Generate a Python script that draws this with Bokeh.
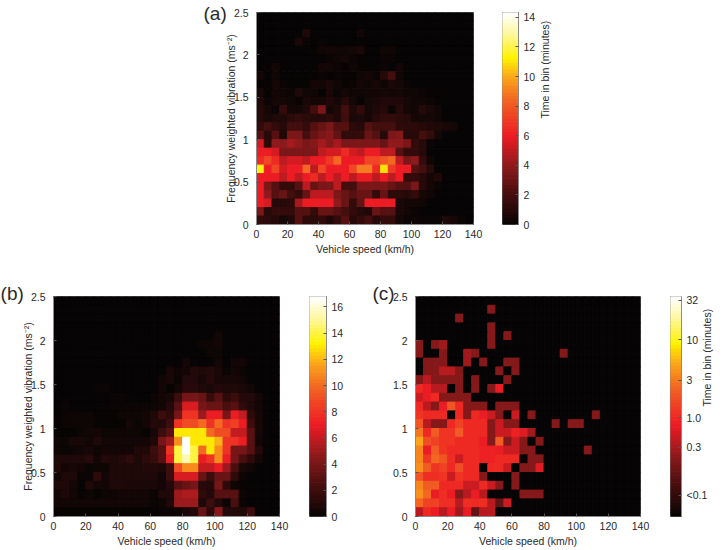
import math
import numpy as np
from bokeh.plotting import figure
from bokeh.layouts import column, row
from bokeh.models import Range1d, FixedTicker, LinearColorMapper, ColumnDataSource, Label
from bokeh.transform import transform
from bokeh.embed import file_html
from bokeh.resources import INLINE

SPEED_TICKS = [0, 20, 40, 60, 80, 100, 120, 140]
VIB_TICKS = [0, 0.5, 1, 1.5, 2, 2.5]
VIB_LABELS = {0: "0", 0.5: "0.5", 1: "1", 1.5: "1.5", 2: "2", 2.5: "2.5"}
BIN_SPEED = 5
BIN_VIB = 0.1
XLABEL = "Vehicle speed (km/h)"
YLABEL = "Frequency weighted vibration (ms\u207b\u00b2)"
CLABEL = "Time in bin (minutes)"

# Rows from the top bin (2.4-2.5) to the bottom bin (0-0.1); missing columns are 0.
A_ROWS = [
 [],
 [],
 [0,0,0,0,0,0,.7,0,0,0,0,0,0,.4],
 [0,0,0,0,0,.6,.2,0,.2],
 [0,0,0,0,0,0,0,.1,.3,.4,.3,.3,.5,.6,0,0,.3,.3],
 [0,0,0,0,0,0,0,0,0,.2,.3,.5,.2,.1,0,0,.2,.2],
 [.1,0,.4,.1,0,0,0,.1,.4,.4,.2,.1,.3,.1,.1,.1,.2,0,.4],
 [.5,0,.3,0,0,.1,0,.1,.2,.1,.2,.1,.1,.3,.4,.2,1,2,.3],
 [.1,.1,.5,.2,.1,0,.1,.4,.4,.6,.3,.1,.2,.4,.3,.5,.3,.6,.5,.2],
 [.6,.1,.4,.3,.2,.7,.3,.3,.1,.6,.2,.5,.3,.3,.4,.4,.5,.4,.5,.3,.3,.2,.1,.1],
 [.8,.2,.5,.5,.3,.1,.6,.5,.5,.8,.5,1,.5,.1,.5,.6,.8,.8,.8,.5,.3,.3,.2,.1],
 [1,.5,.2,1.5,.5,.5,.8,2,3.5,.5,.8,2,.8,1.5,.5,.8,1,.2,1,.5,.4,1,.6,.3],
 [1,.6,.7,.8,1.2,1.5,1.2,1,1,1.2,.8,1.8,.6,.7,.5,1,1.5,1.5,1.2,1,.5,.5,.5,.3,.1],
 [1.5,2,1.5,1,2,2,1.5,2.5,3,3.5,2.5,2.5,1.2,1,2.5,2,2,2,1.2,1.2,1.2,1,.8,.7,.6,.5],
 [2.5,1,2.5,.8,3.5,3.5,2,3,3.5,3.8,2.8,1.3,1.3,1.5,3,2.5,1,3.5,3.8,1,1,2,1.5,.5],
 [5.5,1.2,4,4,4.5,4,3.5,3.8,4.5,3.8,4.5,3.5,3.5,3.5,3.5,3.5,3,4,4,3.5,1.5,1,.2],
 [6,6,5.5,3.5,3.5,3.5,3.5,3.5,5,5.5,5.5,6.5,5.5,5,6,6,5,5,2.5,1.5,1.5,1],
 [6.5,7.5,6.5,5,5.5,5.5,5,6,6,7,8.5,6,6,6,7.5,7.5,8,8.5,5,3.5,4,1.5,.3],
 [11.5,6,7.5,5.5,6,6,8.5,5,7.5,6,6,6,7.5,9,9,6.5,11,7,6,6,2.5,2,1],
 [6,6,6,5,6,5,6,6.5,5,6,5,6,5,6,6,5,6,5,6,1.5,1.5,1,.5,.8],
 [6,3.5,2.5,1.5,1.5,2.5,5,3,3.5,3.5,5,2,2,3.5,3.5,3.5,3.5,3,2.5,2.5,3.5,1,.5,.2],
 [6,4,2.5,3,2,1.5,3,5,5,5,3.5,3,2.5,3,3,1.5,3,1.2,1.2,1,1.5,.5,.3],
 [6,5.5,1,1,1.2,4.5,6,6,6,6,4,3,1.5,2.8,6,6,6,6,.6,.5,.5,.3],
 [3.5,1,1.5,1.5,1.5,2.5,2.5,1.5,3,3,2.5,2,1.5,1,.8,3,2.5,2.5,.6,.5,.2],
 [1.5,1.2,1,.5,.8,2.5,1.2,1.2,1.5,.8,1.5,2.5,1,1.5,2,1,1.5,1.5,.5,.2,.3,.2,.2,.2,.7,.5,.2],
]

B_ROWS = [
 [],
 [],
 [],
 [],
 [0]*20 + [.4],
 [0]*18 + [.3,.3,.5],
 [0]*19 + [.3,.3],
 [0]*16 + [.4,0,0,0,.4,0,.4,.5],
 [0]*14 + [.6,.3,.5,1,.8,1,.7,.2,.5,.2],
 [0]*13 + [.4,.6,.2,1,1,.6,1.2,.6,.6,.6,.4],
 [0,0,0,0,0,.2,.2,0,0,0,0,0,0,.4,.1,.5,1.2,1.2,.9,.7,1,.8,.8,.7,.4],
 [0,0,0,0,0,0,0,.2,.2,0,0,0,.2,.5,.6,2,4,4,3.5,1.8,3,1.5,2,1,1,.5],
 [0,.2,0,0,0,0,0,.2,.2,.2,.2,.3,.3,.4,1,3,6.5,6.5,4,3.5,3.5,2.5,3,1.5,.8,.5],
 [.1,.2,.3,.3,.3,.1,.1,.1,.3,.3,.3,.5,.8,2,1.5,4,8,8,5,7,7,4,7,6,1.5,.6],
 [.1,.2,.3,.3,.3,.1,.1,.1,.1,.5,.2,.5,1,1,2,8,9,9,10,8,10,8,8.5,7,2,.6],
 [.1,.1,.1,.3,.4,.5,.3,.3,.3,.3,.3,.1,.6,2,3,13,13,13,13,10,9,9,6,6,3,.6],
 [.3,.3,.6,.6,.4,.8,.4,.4,.4,.4,.4,.5,.8,4,5,11,16.8,13,13,13,12,8,8,7,3,.5],
 [.3,.2,.3,.5,.6,.3,.5,.4,.5,.4,.8,.9,2,3,8,14,16.8,14,10,13,11,8,4,4,3,1],
 [.8,.8,.8,.9,1.2,.4,1,.8,1,1.5,.8,1.5,1.8,3,7,14,15.5,14,7,8,11,7,4,2.5,1.5,.5],
 [.8,.5,.6,.5,.2,.3,.3,.8,.9,.9,.8,1,1,.8,2,9,11,11,6,6,7,5,2.5,.7,.4],
 [.4,.9,.9,.2,.2,1.5,.5,.9,.9,.9,.9,.9,.9,.5,2,6.5,6.5,6.5,3.5,2,3.5,3.5,1.5,.3],
 [.8,.8,.4,0,.8,.4,.5,.8,.8,.7,.7,.7,.7,.5,1,3,3.5,4,1.2,1,4,1.5,.3,.1],
 [.4,.8,.5,.1,.3,.1,.3,.3,.5,.5,.5,.5,.2,.8,.9,5,5.5,5.5,1.5,1,3,3,3,.3],
 [.4,.4,.4,.4,.4,.4,.5,.4,.4,.4,.4,.4,.2,.3,.8,5,5,5,.8,2,1,.2,2.5,.2],
 [.1,.1,.1,.1,.1,.1,.1,.1,.1,.1,.1,.1,.1,.2,.2,.3,.7,1,3.5,1.5,4.5,1,1,.9,2,.1],
]

# minutes (colour scale is logarithmic)
C_ROWS = [
 [],
 [0,0,0,0,0,0,0,0,0,.3],
 [0,0,0,0,0,.3],
 [0,0,0,0,0,0,0,0,0,.3],
 [0,0,0,0,0,0,0,0,0,.3,0,.3],
 [.3,0,.3,.4,0,0,0,0,0,.3],
 [.3,0,0,.3,0,0,.4,.3,0,0,0,0,0,0,0,0,0,0,.3],
 [0,.3,.3,.3,0,0,.4,0,.3,0,0,.3,.3],
 [0,.3,.3,.5,.5,.3,0,0,0,0,.3,0,.3],
 [.3,.5,.3,.3,.3,.3,0,.3,0,0,0,.3],
 [1,.8,.5,.5,0,.3,0,.3,0,.3,.8],
 [.6,.8,1,.3,.3,.3,.3],
 [1,.5,.3,.8,2,1,.3,.3,.3,0,.3,.3,.3],
 [1.2,1,1,1,0,1,.3,1,.8,.6,.3,0,.6,0,.3,0,0,0,0,0,0,0,.3],
 [2,.5,.3,.3,1,1.5,1,1,1,.3,.6,.3,.3,0,0,0,0,.3,0,.3,.3],
 [3,1,2.2,1.2,1.2,2.2,1,1,1,.3,.6,.6,.9,.7,.4],
 [5,1.8,1.5,1.2,1.2,1,1,1,.8,.3,2.2,.3,.6,.3,0,.3],
 [3.5,.8,2.2,1.2,1,1,1,1,.9,.9,.8,.6,.6,.3,.3,0,0,0,0,0,0,.3],
 [3.5,1.3,2.5,2,1.1,.6,1,1,.9,.9,1,1,1,0,.3,.3],
 [4,2.2,1.2,1.5,1,1.8,1,1,0,1,1,.6,0,.3,.3,.7],
 [2,1.1,1.1,1.2,.6,1.2,1,1,.3,0,0,0,.3],
 [3.5,2.2,2.2,1,1,1,.6,.6,1,.6,.3,0,.3],
 [4,2.5,.8,1.1,.8,.3,.5,.8,.5,0,0,0,0,.3,.3,.3],
 [2.5,1.5,1.5,1.1,1.1,.5,1.1,1,1.1,.5,.2,.6],
 [.5,1,.8,.5,.8,.4,.8,.2,.5,.5],
]

A_CBAR_TICKS = [0, 2, 4, 6, 8, 10, 12, 14]
B_CBAR_TICKS = [0, 2, 4, 6, 8, 10, 12, 14, 16]
C_CBAR_LABELS = ["<0.1", "0.3", "1.0", "3", "10", "32"]
C_CBAR_POS = [-1.0, -0.38, 0.0, 0.477, 1.0, 1.505]

anchors = [(0, "#060404"), (.05, "#1f0808"), (.14, "#440e0e"), (.28, "#8e1a1c"), (.42, "#ed1c24"),
           (.57, "#f15a24"), (.70, "#faa61a"), (.79, "#fff200"), (.90, "#fff799"), (1, "#ffffff")]
def lerp_palette(n=256):
    out = []
    xs = [a[0] for a in anchors]
    rgb = [[int(a[1][i:i+2], 16) for a in anchors] for i in (1, 3, 5)]
    for t in np.linspace(0, 1, n):
        c = [int(round(np.interp(t, xs, ch))) for ch in rgb]
        out.append("#%02x%02x%02x" % tuple(c))
    return out
PAL = lerp_palette()
FONT = "Liberation Sans"
TXT = "#2a2a2a"
EDGE = "#8a8a8a"

def style(ax):
    ax.axis_line_color = EDGE
    ax.major_tick_line_color = "#555555"
    ax.minor_tick_line_color = None
    ax.major_tick_in = 3
    ax.major_tick_out = 0
    ax.major_label_text_font = FONT
    ax.major_label_text_font_size = "10.5px"
    ax.major_label_text_color = TXT
    ax.axis_label_text_font = FONT
    ax.axis_label_text_font_size = "10.5px"
    ax.axis_label_text_font_style = "normal"
    ax.axis_label_text_color = TXT

def panel(rows, lo, hi, w, h, left, right, top, bottom, ylabel, letter, lx, ly, log=False):
    p = figure(width=w, height=h, x_range=Range1d(0, 140), y_range=Range1d(0, 2.5),
               output_backend="svg", toolbar_location=None,
               min_border_left=left, min_border_right=right, min_border_top=top, min_border_bottom=bottom)
    xs0, xs1, ys0, ys1, vs = [], [], [], [], []
    for i, r in enumerate(rows):
        k = len(rows) - 1 - i
        r = list(r) + [0] * (28 - len(r))
        for j, v in enumerate(r):
            xs0.append(j * BIN_SPEED); xs1.append((j + 1) * BIN_SPEED)
            ys0.append(k * BIN_VIB); ys1.append((k + 1) * BIN_VIB)
            vs.append(math.log10(v) if (log and v > 0) else (lo if log else v))
    src = ColumnDataSource(dict(l=xs0, r=xs1, b=ys0, t=ys1, v=vs))
    m = LinearColorMapper(palette=PAL, low=lo, high=hi)
    p.quad(left="l", right="r", bottom="b", top="t", source=src,
           fill_color=transform("v", m), line_color=transform("v", m), line_width=1)
    p.grid.visible = False
    p.outline_line_color = EDGE
    style(p.xaxis[0]); style(p.yaxis[0])
    p.xaxis[0].ticker = FixedTicker(ticks=SPEED_TICKS)
    p.yaxis[0].ticker = FixedTicker(ticks=VIB_TICKS)
    p.yaxis[0].major_label_overrides = VIB_LABELS
    p.xaxis[0].axis_label = XLABEL
    p.xaxis[0].major_label_standoff = 5
    p.xaxis[0].axis_label_standoff = 2
    p.yaxis[0].major_label_standoff = 8
    if ylabel:
        p.yaxis[0].axis_label = YLABEL
        p.yaxis[0].axis_label_standoff = -6
    p.add_layout(Label(x=lx, y=ly, x_units="data", y_units="data", text=letter,
                       text_font=FONT, text_font_size="19px", text_color=TXT), "right")
    return p

def cbar(lo, hi, ticks, labels, w, h, left, right, top, bottom, title, standoff=5):
    p = figure(width=w, height=h, x_range=Range1d(0, 1), y_range=Range1d(lo, hi),
               y_axis_location="right", output_backend="svg", toolbar_location=None,
               min_border_left=left, min_border_right=right, min_border_top=top, min_border_bottom=bottom)
    m = LinearColorMapper(palette=PAL, low=lo, high=hi)
    lv = np.linspace(lo, hi, 65)
    src = ColumnDataSource(dict(b=lv[:-1], t=lv[1:], v=(lv[:-1] + lv[1:]) / 2))
    p.quad(left=0, right=1, bottom="b", top="t", source=src,
           fill_color=transform("v", m), line_color=transform("v", m), line_width=1)
    p.grid.visible = False
    p.outline_line_color = EDGE
    p.xaxis.visible = False
    style(p.yaxis[0])
    ax = p.yaxis[0]
    ax.ticker = FixedTicker(ticks=ticks)
    if labels:
        ax.major_label_overrides = labels
    ax.major_label_standoff = 5
    if title:
        ax.axis_label = title
        ax.axis_label_standoff = standoff
        ax.axis_label_orientation = math.pi / 2
    return p

pa = panel(A_ROWS, 0, 14.33, 501, 276, 256, 28, 12, 52, True, "(a)", -34.2, 2.37)
ca = cbar(0, 14.33, A_CBAR_TICKS, None, 221, 276, 1, 204, 9, 52, CLABEL, 7)
pb = panel(B_ROWS, 0, 16.8, 308, 274, 53, 29, 20, 33, True, "(b)", -32.8, 2.42)
cb = cbar(0, 16.8, B_CBAR_TICKS, None, 62, 274, 1, 44, 17, 34, None)
pc = panel(C_ROWS, -1.27, 1.556, 299, 274, 45, 29, 20, 33, False, "(c)", -26.8, 2.42, log=True)
cc = cbar(-1.27, 1.556, C_CBAR_POS, dict(zip(C_CBAR_POS, C_CBAR_LABELS)), 53, 274, 1, 35, 18, 33, CLABEL, -3)

root = column(row(pa, ca), row(pb, cb, pc, cc))
open("out.html", "w").write(file_html(root, INLINE))
